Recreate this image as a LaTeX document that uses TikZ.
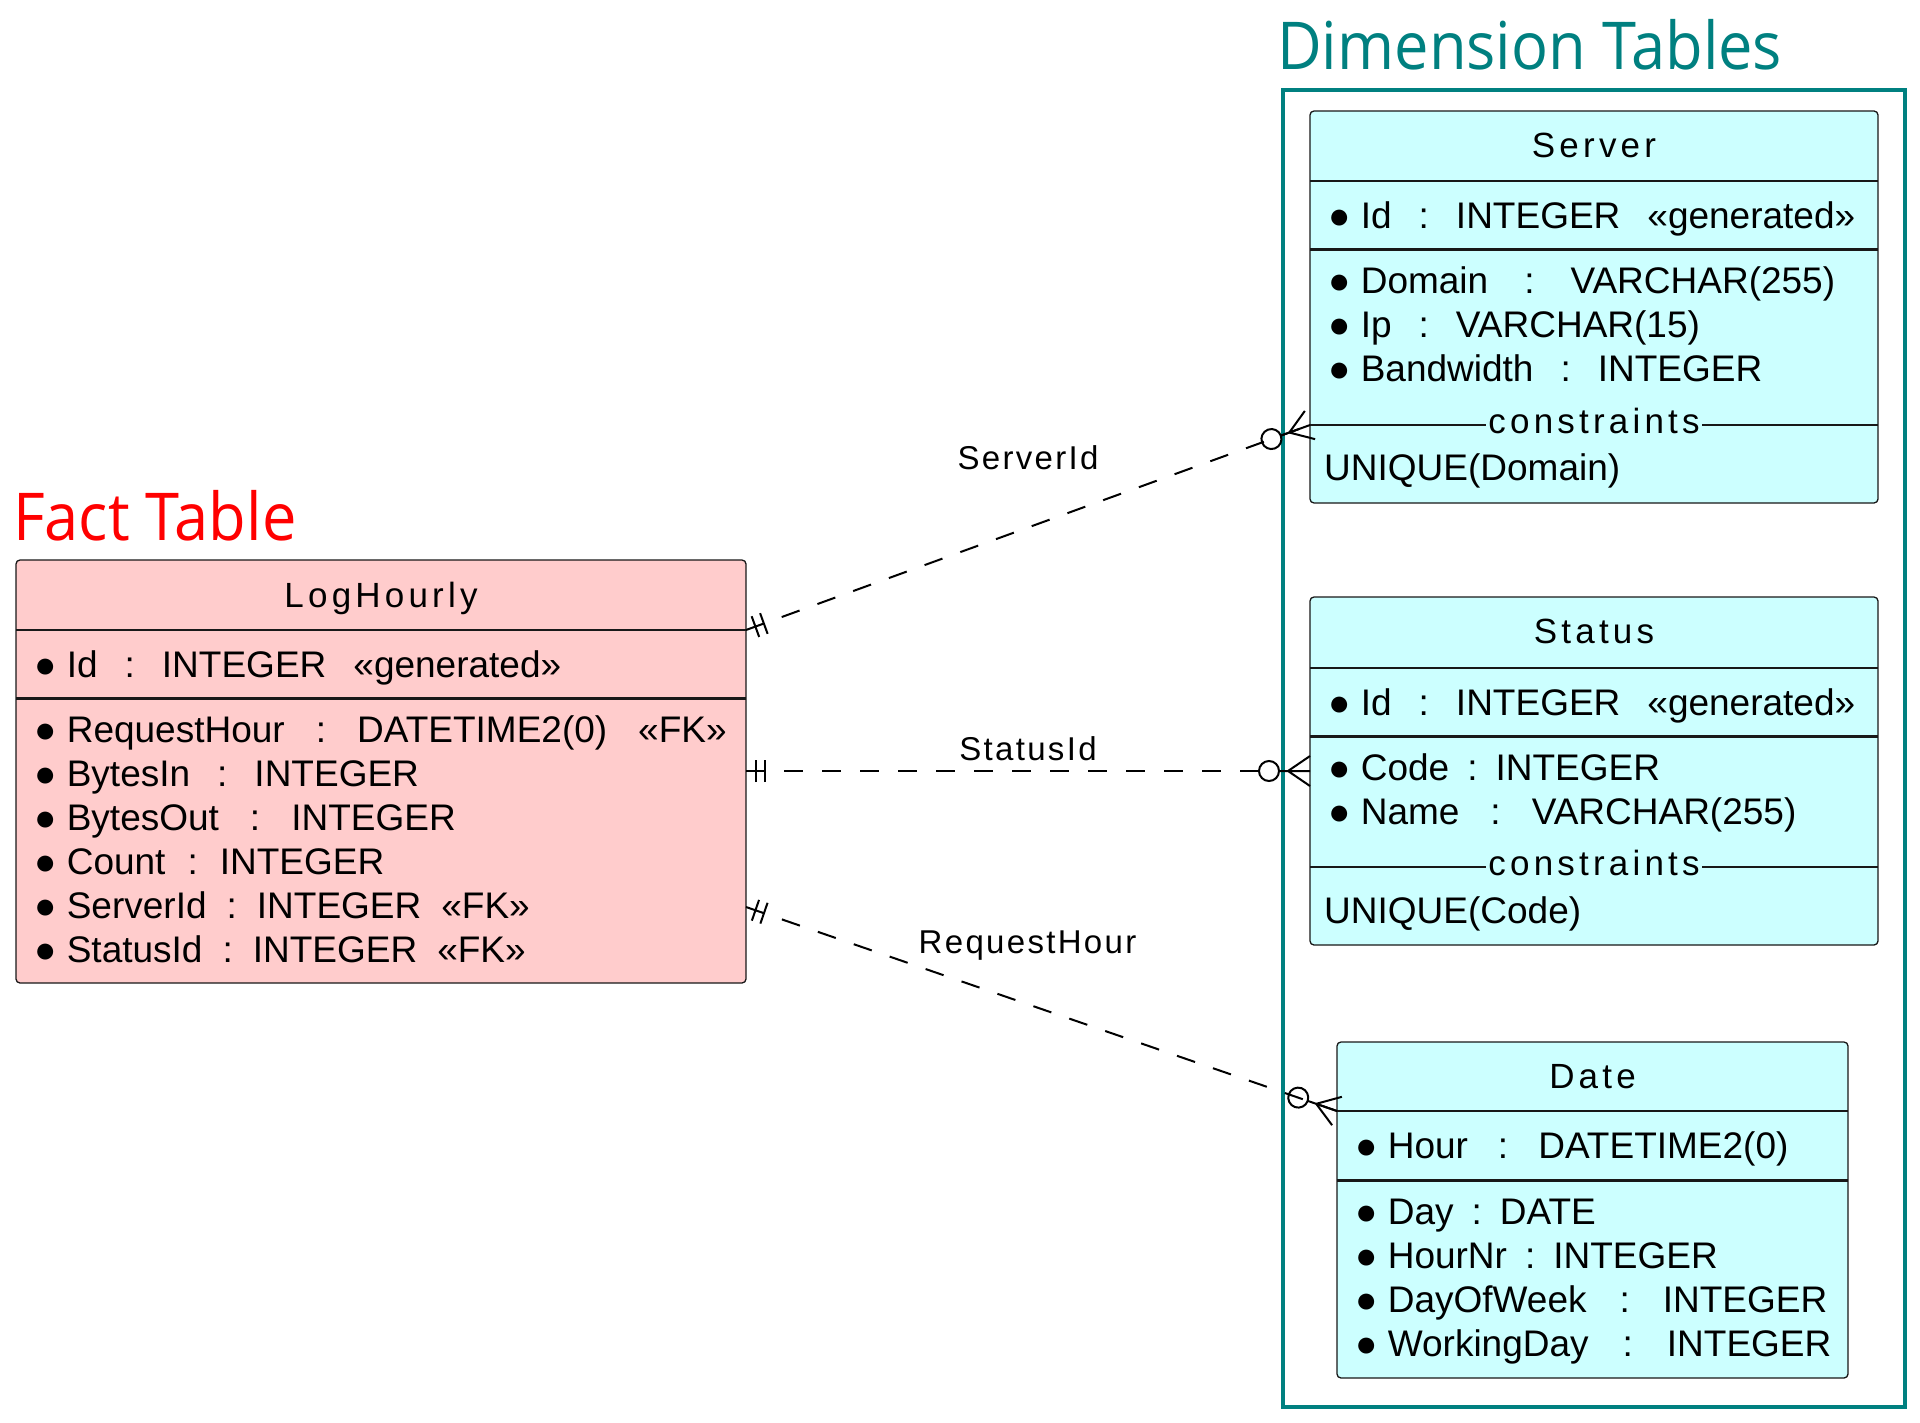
\documentclass[tikz,border=0pt]{standalone}
\usepackage{fontspec}
\setmainfont{Liberation Sans}
\newfontfamily\spacedfont[LetterSpace=12]{Liberation Sans}
\newfontfamily\labelfont[LetterSpace=7]{Liberation Sans}
\newfontfamily\bannerfont[FakeStretch=0.93]{Open Sans}
\usetikzlibrary{positioning,decorations.markings}

\definecolor{factpink}{HTML}{FFCCCC}
\definecolor{dimcyan}{HTML}{CCFFFF}
\definecolor{dimteal}{HTML}{008080}
\definecolor{edgegray}{HTML}{181818}

\newcommand{\gapp}{\hspace{27pt}}

% crow's foot ends
\tikzset{
  one end/.style={postaction={decorate,decoration={markings,
      mark=at position 0 with {\draw[solid] (10pt,-11pt) -- (10pt,11pt) (19pt,-11pt) -- (19pt,11pt);}}}},
  many end/.style={postaction={decorate,decoration={markings,
      mark=at position 1 with {\draw[solid] (-41pt,0pt) circle[radius=10pt] (-31pt,0pt) -- (0pt,0pt)
        (0pt,15pt) -- (-22pt,0pt) -- (0pt,-15pt);}}}}
}

\begin{document}
\begin{tikzpicture}[x=1pt, y=-1pt,
  tbl/.style={draw=edgegray, line width=1.3pt, rounded corners=4pt, inner sep=0pt},
  fact/.style={tbl, fill=factpink},
  dim/.style={tbl, fill=dimcyan},
  tname/.style={anchor=base, inner sep=0pt, font=\spacedfont\fontsize{35}{42}\selectfont},
  attr/.style={anchor=base west, inner sep=0pt, font=\fontsize{37}{44}\selectfont},
  thinsep/.style={edgegray, line width=1.3pt},
  keysep/.style={edgegray, line width=3pt},
  cons/.style={anchor=base, fill=dimcyan, inner xsep=2pt, inner ysep=0pt,
               font=\spacedfont\fontsize{35}{42}\selectfont},
  rel/.style={line width=2pt, dash pattern=on 19pt off 19pt},
  rlabel/.style={inner sep=0pt, font=\labelfont\fontsize{33}{40}\selectfont},
  banner/.style={anchor=base west, inner sep=0pt, font=\bannerfont\fontsize{66}{72}\selectfont}]

  \useasboundingbox (0,0) rectangle (1920,1422);

  % fact table
  \node[banner, text=red] (facthead) at (13,540) {Fact Table};
  \node[fact, minimum width=730pt, minimum height=423pt] (lh) at (381,771.5) {};
  \node[tname] (lhname) at (381,607) {LogHourly};
  \draw[thinsep] (16,630) -- (746,630);
  \node[attr] (lhid) at (34,677) {● Id\gapp:\gapp INTEGER\gapp«generated»};
  \draw[keysep] (16,698) -- (746,698);
  \node[attr] (lhreq) at (34,742) {● RequestHour\hspace{31pt}:\hspace{31pt}DATETIME2(0)\hspace{31pt}«FK»};
  \node[attr] (lhin) at (34,786) {● BytesIn\gapp:\gapp INTEGER};
  \node[attr] (lhout) at (34,830) {● BytesOut\hspace{31pt}:\hspace{31pt}INTEGER};
  \node[attr] (lhcnt) at (34,874) {● Count\hspace{22pt}:\hspace{22pt}INTEGER};
  \node[attr] (lhsrv) at (34,918) {● ServerId\hspace{20pt}:\hspace{20pt}INTEGER\hspace{20pt}«FK»};
  \node[attr] (lhsts) at (34,962) {● StatusId\hspace{20pt}:\hspace{20pt}INTEGER\hspace{20pt}«FK»};

  % dimension tables
  \node[banner, text=dimteal] (dimhead) at (1277,69) {Dimension Tables};
  \node[draw=dimteal, line width=4pt, minimum width=622pt, minimum height=1317pt, inner sep=0pt]
    (dimbox) at (1594,748.5) {};

  \node[dim, minimum width=568pt, minimum height=392pt] (srv) at (1594,307) {};
  \node[tname] (srvname) at (1594,157) {Server};
  \draw[thinsep] (1310,181) -- (1878,181);
  \node[attr] (srvid) at (1328,228) {● Id\gapp:\gapp INTEGER\gapp«generated»};
  \draw[keysep] (1310,249) -- (1878,249);
  \node[attr] (srvdom) at (1328,293) {● Domain\hspace{36pt}:\hspace{36pt}VARCHAR(255)};
  \node[attr] (srvip) at (1328,337) {● Ip\gapp:\gapp VARCHAR(15)};
  \node[attr] (srvbw) at (1328,381) {● Bandwidth\gapp:\gapp INTEGER};
  \draw[thinsep] (1310,425) -- (1878,425);
  \node[cons] (srvcons) at (1594,433) {constraints};
  \node[attr] (srvuq) at (1324,480) {UNIQUE(Domain)};

  \node[dim, minimum width=568pt, minimum height=348pt] (sts) at (1594,771) {};
  \node[tname] (stsname) at (1594,643) {Status};
  \draw[thinsep] (1310,668) -- (1878,668);
  \node[attr] (stsid) at (1328,715) {● Id\gapp:\gapp INTEGER\gapp«generated»};
  \draw[keysep] (1310,736) -- (1878,736);
  \node[attr] (stscode) at (1328,780) {● Code\hspace{18pt}:\hspace{18pt}INTEGER};
  \node[attr] (stsname2) at (1328,824) {● Name\hspace{31pt}:\hspace{31pt}VARCHAR(255)};
  \draw[thinsep] (1310,867) -- (1878,867);
  \node[cons] (stscons) at (1594,875) {constraints};
  \node[attr] (stsuq) at (1324,923) {UNIQUE(Code)};

  \node[dim, minimum width=511pt, minimum height=336pt] (dt) at (1592.5,1210) {};
  \node[tname] (dtname) at (1592.5,1088) {Date};
  \draw[thinsep] (1337,1111) -- (1848,1111);
  \node[attr] (dthour) at (1355,1158) {● Hour\hspace{30pt}:\hspace{30pt}DATETIME2(0)};
  \draw[keysep] (1337,1180) -- (1848,1180);
  \node[attr] (dtday) at (1355,1224) {● Day\hspace{18pt}:\hspace{18pt}DATE};
  \node[attr] (dtnr) at (1355,1268) {● HourNr\hspace{18pt}:\hspace{18pt}INTEGER};
  \node[attr] (dtdow) at (1355,1312) {● DayOfWeek\hspace{33pt}:\hspace{33pt}INTEGER};
  \node[attr] (dtwd) at (1355,1356) {● WorkingDay\hspace{34pt}:\hspace{34pt}INTEGER};

  % relations
  \coordinate (lhA) at (746,630);
  \coordinate (lhB) at (746,771);
  \coordinate (lhC) at (746,907);
  \coordinate (srvin) at (1310,425);
  \coordinate (stsin) at (1310,771);
  \coordinate (dtin) at (1337,1111);
  \draw[rel, one end, many end] (lhA) -- node[rlabel, above=57pt] (relsrv) {ServerId} (srvin);
  \draw[rel, one end, many end] (lhB) -- node[rlabel, above=9pt] (relsts) {StatusId} (stsin);
  \draw[rel, one end, many end] (lhC) -- node[rlabel, above=48pt, xshift=-14pt] (reldt) {RequestHour} (dtin);
\end{tikzpicture}
\end{document}
